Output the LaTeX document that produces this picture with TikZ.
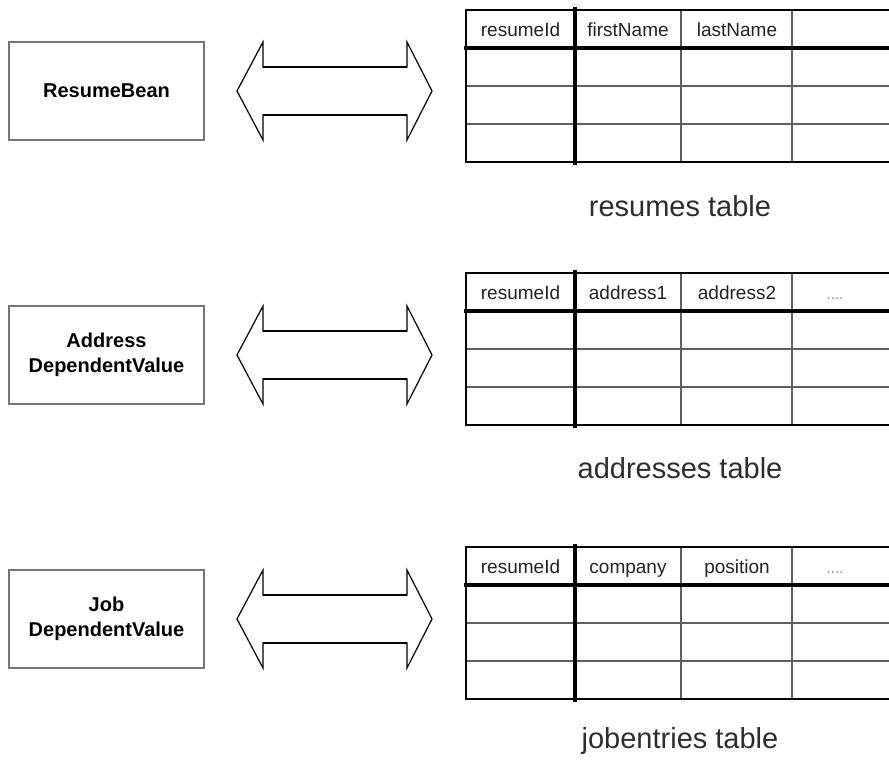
\documentclass[tikz,border=0pt]{standalone}
\usepackage{fontspec}
\setmainfont{Liberation Sans}
\definecolor{boxgray}{RGB}{118,118,118}
\definecolor{gridgray}{RGB}{95,95,95}
\definecolor{lblgray}{RGB}{45,45,45}
\definecolor{hdrgray}{RGB}{35,35,35}
\definecolor{dotgray}{RGB}{140,140,140}
\tikzset{
  entity/.style={draw=boxgray, line width=2pt, minimum width=195pt, minimum height=98pt,
    inner sep=0pt, align=center, font=\fontsize{20}{25}\selectfont\bfseries},
  hdr/.style={inner sep=0pt, anchor=base, text=hdrgray, font=\fontsize{19}{22}\selectfont},
  dots/.style={inner sep=0pt, anchor=base, text=dotgray, font=\fontsize{15}{17}\selectfont},
  lbl/.style={inner sep=0pt, anchor=base, text=lblgray, font=\fontsize{29}{34}\selectfont},
  innerline/.style={draw=gridgray, line width=2pt},
  outerline/.style={draw=black, line width=2pt},
  heavyline/.style={draw=black, line width=4.5pt},
  arrowline/.style={draw=black, line width=1.2pt, line join=miter},
  shaftline/.style={draw=black, line width=2.2pt},
}
\newcommand\mytable[6]{%
  \begin{scope}[shift={(0,#2)}]
    \draw[innerline] (466,76) -- (895,76);
    \draw[innerline] (466,114) -- (895,114);
    \draw[innerline] (681,0) -- (681,152);
    \draw[innerline] (792,0) -- (792,152);
    \draw[outerline] (895,0) -- (466,0) -- (466,152) -- (895,152);
    \draw[heavyline] (464,38) -- (895,38);
    \draw[heavyline] (575,-3) -- (575,155);
    \node[hdr] (#1a) at (520.5,26) {#3};
    \node[hdr] (#1b) at (628,26) {#4};
    \node[hdr] (#1c) at (737,26) {#5};
    #6
  \end{scope}}
\newcommand\dblarrow[1]{%
  \draw[arrowline] (237,#1) -- (263,#1-49) -- (263,#1-24) -- (407,#1-24) -- (407,#1-49)
    -- (432,#1) -- (407,#1+49) -- (407,#1+24) -- (263,#1+24) -- (263,#1+49) -- cycle;
  \draw[shaftline] (263,#1-24) -- (407,#1-24);
  \draw[shaftline] (263,#1+24) -- (407,#1+24);}
\begin{document}
\begin{tikzpicture}[x=1pt,y=-1pt]
  \clip (0,0) rectangle (889,761);
  \fill[white] (0,0) rectangle (889,761);

  % entity boxes
  \node[entity] (b1) at (106.5,91) {ResumeBean};
  \node[entity] (b2) at (106.5,355) {Address\\DependentValue};
  \node[entity] (b3) at (106.5,619) {Job\\DependentValue};

  % double arrows
  \dblarrow{91}
  \dblarrow{355}
  \dblarrow{619}

  % tables
  \mytable{t1}{10}{resumeId}{firstName}{lastName}{}
  \mytable{t2}{273}{resumeId}{address1}{address2}{\node[dots] (t2d) at (835,26) {....};}
  \mytable{t3}{547}{resumeId}{company}{position}{\node[dots] (t3d) at (835,26) {....};}

  % table labels
  \node[lbl] (l1) at (680,216) {resumes table};
  \node[lbl] (l2) at (680,478) {addresses table};
  \node[lbl] (l3) at (680,748) {jobentries table};
\end{tikzpicture}
\end{document}
